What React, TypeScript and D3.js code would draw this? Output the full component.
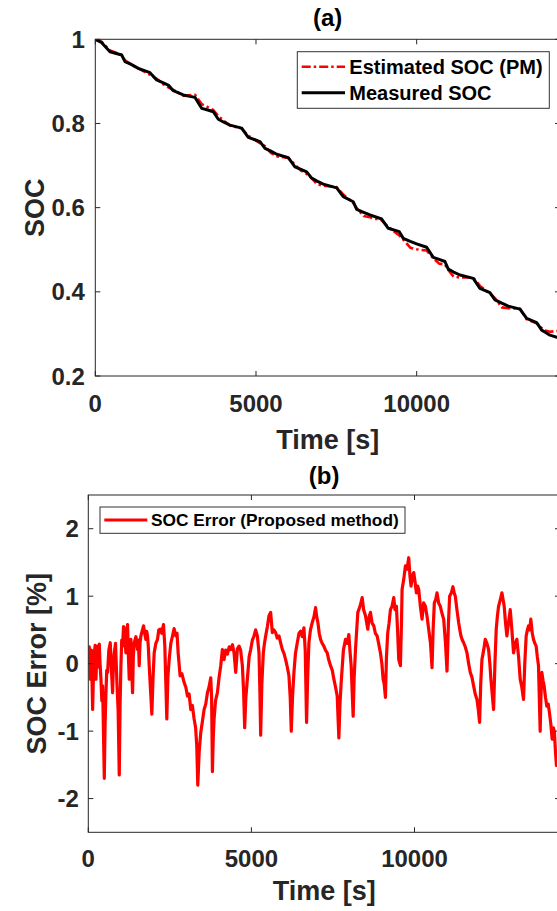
import React, { useEffect } from "react";
import * as d3 from "d3";

// ---------- data ----------
const timeTicks = [0, 5000, 10000];
const socTicks = [0.2, 0.4, 0.6, 0.8, 1];
const errTicks = [-2, -1, 0, 1, 2];
const socTickLabels = ["0.2", "0.4", "0.6", "0.8", "1"];
const errTickLabels = ["-2", "-1", "0", "1", "2"];

// [time s, SOC]
const measuredSOC: [number, number][] = [
  [0, 1.0], [200, 0.992], [457, 0.9705], [821, 0.9627], [924, 0.947], [1100, 0.941], [1338, 0.931],
  [1702, 0.9207], [1910, 0.9033], [2100, 0.897], [2271, 0.8914], [2427, 0.878], [2738, 0.8677],
  [3102, 0.862], [3310, 0.836], [3500, 0.832], [3671, 0.828], [3827, 0.81], [4000, 0.803], [4191, 0.796],
  [4555, 0.789], [4760, 0.767], [5125, 0.757], [5280, 0.741], [5450, 0.735], [5644, 0.727], [6005, 0.719],
  [6213, 0.697], [6400, 0.691], [6577, 0.685], [6733, 0.67], [6900, 0.663], [7094, 0.656], [7511, 0.647],
  [7716, 0.626], [8027, 0.614], [8133, 0.596], [8350, 0.589], [8547, 0.583], [8911, 0.573], [9116, 0.551],
  [9459, 0.543], [9583, 0.527], [9800, 0.52], [10000, 0.514], [10311, 0.506], [10516, 0.482], [10700, 0.477],
  [10880, 0.472], [10983, 0.454], [11150, 0.447], [11347, 0.44], [11761, 0.432], [11969, 0.408], [12280, 0.398],
  [12436, 0.381], [12650, 0.373], [12850, 0.366], [13214, 0.359], [13423, 0.337], [13734, 0.327], [13890, 0.309],
  [14000, 0.304], [14148, 0.297], [14365, 0.292], [14460, 0.29],
];

const estimatedSOC: [number, number][] = [
  [0, 0.999], [200, 0.994], [457, 0.9735], [821, 0.963], [924, 0.95], [1100, 0.941], [1338, 0.931],
  [1702, 0.916], [1910, 0.906], [2100, 0.894], [2271, 0.886], [2427, 0.88], [2738, 0.866],
  [3102, 0.868], [3310, 0.846], [3500, 0.839], [3671, 0.832], [3827, 0.818], [4000, 0.806], [4191, 0.795],
  [4555, 0.788], [4760, 0.771], [5125, 0.753], [5280, 0.746], [5450, 0.731], [5644, 0.722], [6005, 0.718],
  [6213, 0.702], [6400, 0.688], [6577, 0.68], [6733, 0.67], [6900, 0.656], [7094, 0.652], [7511, 0.649],
  [7716, 0.631], [8027, 0.611], [8133, 0.599], [8350, 0.58], [8547, 0.577], [8911, 0.57], [9116, 0.554],
  [9459, 0.534], [9583, 0.524], [9800, 0.505], [10000, 0.501], [10311, 0.498], [10516, 0.48], [10700, 0.467],
  [10880, 0.465], [10983, 0.452], [11150, 0.436], [11347, 0.434], [11761, 0.434], [11969, 0.414], [12280, 0.396],
  [12436, 0.385], [12650, 0.363], [12850, 0.361], [13214, 0.36], [13423, 0.335], [13734, 0.325], [13890, 0.314],
  [14000, 0.308], [14148, 0.305], [14365, 0.307], [14460, 0.306],
];

// [time s, SOC error %]
const socError: [number, number][] = [
  [0, 0.11], [30, 0.25], [61, -0.23], [95, 0.2], [133, -0.68], [160, -0.1], [184, 0.16], [210, 0.27],
  [235, -0.23], [260, 0.1], [286, 0.26], [310, -0.05], [337, 0.29], [360, 0.0], [388, -0.23], [415, -0.55],
  [439, -0.33], [465, -1.0], [490, -1.7], [515, -0.9], [541, -0.43], [565, -0.1], [592, -0.13], [630, 0.2],
  [673, 0.31], [710, -0.1], [745, -0.43], [770, 0.0], [796, 0.16], [835, 0.3], [877, -0.28], [915, -0.7],
  [949, -1.65], [975, -0.6], [1000, -0.03], [1025, 0.35], [1051, 0.26], [1080, 0.55], [1102, 0.53],
  [1130, 0.3], [1153, 0.16], [1180, 0.45], [1204, 0.58], [1230, 0.1], [1255, -0.23], [1280, 0.2],
  [1306, 0.36], [1330, -0.1], [1357, -0.43], [1380, 0.1], [1408, 0.31], [1460, 0.4], [1510, 0.21],
  [1535, 0.35], [1561, -0.03], [1585, 0.3], [1612, 0.41], [1650, 0.48], [1693, 0.56], [1730, 0.45],
  [1765, 0.36], [1790, 0.48], [1816, 0.41], [1840, 0.25], [1867, -0.03], [1948, -0.75], [1985, -0.2],
  [2020, 0.16], [2070, 0.3], [2122, 0.36], [2160, 0.5], [2203, 0.51], [2250, 0.45], [2305, 0.58],
  [2346, 0.26], [2407, -0.82], [2440, -0.2], [2479, 0.06], [2530, 0.3], [2581, 0.41], [2630, 0.52],
  [2683, 0.41], [2720, 0.45], [2754, 0.16], [2815, -0.18], [2870, -0.15], [2938, -0.28], [2990, -0.35],
  [3040, -0.48], [3090, -0.45], [3142, -0.68], [3190, -0.62], [3244, -0.82], [3290, -0.95], [3325, -1.22],
  [3356, -1.8], [3400, -1.3], [3448, -1.02], [3500, -0.85], [3550, -0.68], [3600, -0.6], [3652, -0.43],
  [3700, -0.35], [3754, -0.21], [3780, -0.5], [3805, -1.6], [3830, -1.1], [3856, -0.82], [3900, -0.55],
  [3958, -0.43], [4010, -0.2], [4060, -0.03], [4111, 0.21], [4162, 0.06], [4210, 0.2], [4264, 0.14],
  [4320, 0.25], [4366, 0.21], [4420, 0.28], [4468, 0.16], [4519, -0.13], [4570, 0.22], [4621, 0.26],
  [4670, 0.2], [4723, -0.03], [4760, -0.4], [4794, -0.95], [4830, -0.5], [4876, -0.23], [4930, 0.1],
  [4978, 0.21], [5030, 0.35], [5080, 0.41], [5130, 0.5], [5182, 0.41], [5233, 0.16], [5260, -0.4],
  [5284, -1.06], [5320, -0.3], [5365, 0.16], [5400, 0.3], [5437, 0.41], [5490, 0.55], [5539, 0.71],
  [5590, 0.76], [5641, 0.46], [5690, 0.5], [5743, 0.46], [5790, 0.38], [5845, 0.41], [5900, 0.3],
  [5947, 0.21], [6000, 0.15], [6049, 0.06], [6100, -0.05], [6151, -0.18], [6190, -0.5], [6222, -1.0],
  [6260, -0.5], [6304, -0.13], [6350, 0.15], [6406, 0.31], [6460, 0.45], [6508, 0.48], [6560, 0.4],
  [6610, 0.53], [6650, 0.2], [6691, -0.87], [6725, -0.2], [6763, 0.31], [6810, 0.5], [6865, 0.61],
  [6920, 0.7], [6967, 0.83], [7000, 0.7], [7038, 0.61], [7080, 0.45], [7120, 0.36], [7170, 0.3],
  [7222, 0.26], [7270, 0.2], [7324, 0.16], [7375, 0.05], [7426, -0.03], [7480, -0.1], [7528, -0.23],
  [7580, -0.35], [7630, -0.48], [7681, -1.1], [7715, -0.6], [7752, -0.28], [7820, 0.2], [7885, 0.36],
  [7935, 0.3], [7987, 0.43], [8020, 0.2], [8058, -0.03], [8119, -0.78], [8150, -0.2], [8191, 0.21],
  [8262, 0.76], [8330, 0.85], [8395, 0.98], [8440, 0.8], [8497, 0.71], [8568, 0.51], [8610, 0.7],
  [8650, 0.76], [8700, 0.6], [8752, 0.56], [8800, 0.45], [8854, 0.41], [8900, 0.3], [8956, 0.16],
  [9000, 0.0], [9037, -0.23], [9070, -0.3], [9109, -0.5], [9140, 0.1], [9180, 0.46], [9220, 0.6],
  [9262, 0.8], [9310, 0.85], [9364, 0.98], [9400, 0.8], [9445, 0.85], [9480, 0.5], [9517, 0.06],
  [9568, -0.03], [9600, 0.6], [9619, 1.1], [9670, 1.25], [9721, 1.45], [9770, 1.4], [9823, 1.57],
  [9860, 1.3], [9894, 1.15], [9935, 1.3], [9976, 1.35], [10020, 1.2], [10057, 1.05], [10095, 1.15],
  [10129, 1.1], [10180, 0.85], [10231, 0.66], [10280, 0.9], [10333, 0.85], [10385, 0.7], [10435, 0.51],
  [10490, 0.3], [10537, -0.06], [10570, 0.5], [10608, 0.9], [10650, 0.95], [10690, 1.05], [10740, 0.9],
  [10792, 0.85], [10840, 0.75], [10894, 0.66], [10950, 0.3], [10996, -0.11], [11040, 0.6], [11077, 1.0],
  [11130, 1.05], [11179, 1.14], [11215, 1.05], [11251, 1.0], [11300, 0.8], [11353, 0.61], [11390, 0.5],
  [11424, 0.41], [11465, 0.35], [11506, 0.31], [11555, 0.25], [11608, 0.16], [11660, 0.0], [11710, -0.13],
  [11760, -0.2], [11812, -0.33], [11860, -0.45], [11914, -0.53], [11960, -0.7], [11995, -0.87],
  [12030, -0.3], [12067, 0.06], [12120, 0.2], [12169, 0.36], [12220, 0.3], [12271, 0.21], [12310, 0.0],
  [12342, -0.23], [12424, -0.68], [12465, 0.0], [12505, 0.51], [12540, 0.7], [12577, 0.85], [12630, 0.95],
  [12679, 1.05], [12715, 0.95], [12750, 0.85], [12790, 0.6], [12832, 0.41], [12880, 0.6], [12934, 0.8],
  [12985, 0.5], [13036, 0.16], [13090, 0.3], [13138, 0.36], [13190, 0.1], [13240, -0.23], [13290, -0.35],
  [13342, -0.53], [13380, 0.0], [13423, 0.41], [13460, 0.5], [13495, 0.56], [13530, 0.5], [13566, 0.66],
  [13610, 0.45], [13648, 0.36], [13690, 0.3], [13729, 0.26], [13765, 0.1], [13801, -0.03], [13852, -1.0],
  [13875, -0.5], [13903, -0.13], [13940, -0.25], [13974, -0.33], [14015, -0.5], [14056, -0.63],
  [14100, -0.6], [14137, -0.73], [14180, -0.9], [14219, -1.12], [14260, -0.95], [14290, -1.02],
  [14320, -1.3], [14351, -1.51], [14390, -1.35], [14420, -1.45],
];

const legendA = ["Estimated SOC (PM)", "Measured SOC"];
const legendB = ["SOC Error (Proposed method)"];

// ---------- styling ----------
const FONT = "'Liberation Sans', Arial, Helvetica, sans-serif";
const TXT = "#262626";
const AX = "#262626";
const TICK = 5;

export default function App() {
  useEffect(() => {
    document.body.style.margin = "0";
  }, []);

  const W = 557;
  const H = 911;
  const a = { left: 95.3, right: 560, top: 39.3, bottom: 376 };
  const b = { left: 88.3, right: 560, top: 495, bottom: 832.3 };

  const xA = d3.scaleLinear().domain([0, 14460]).range([a.left, a.right]);
  const yA = d3.scaleLinear().domain([0.2, 1]).range([a.bottom, a.top]);
  const xB = d3.scaleLinear().domain([0, 14460]).range([b.left, b.right]);
  const yB = d3.scaleLinear().domain([-2.5, 2.5]).range([b.bottom, b.top]);

  const lineA = d3
    .line<[number, number]>()
    .x((d) => xA(d[0]))
    .y((d) => yA(d[1]));
  const lineB = d3
    .line<[number, number]>()
    .x((d) => xB(d[0]))
    .y((d) => yB(d[1]));

  const frame = (p: typeof a) => (
    <rect
      x={p.left}
      y={p.top}
      width={p.right - p.left}
      height={p.bottom - p.top}
      fill="none"
      stroke={AX}
      strokeWidth={1}
    />
  );

  const xTicksFor = (p: typeof a, xs: d3.ScaleLinear<number, number>, key: string) =>
    timeTicks.map((t) => (
      <g key={key + t}>
        <line x1={xs(t)} x2={xs(t)} y1={p.bottom} y2={p.bottom - TICK} stroke={AX} />
        <line x1={xs(t)} x2={xs(t)} y1={p.top} y2={p.top + TICK} stroke={AX} />
      </g>
    ));

  const yTicksFor = (p: typeof a, ys: d3.ScaleLinear<number, number>, ticks: number[], key: string) =>
    ticks.map((v) => (
      <g key={key + v}>
        <line x1={p.left} x2={p.left + TICK} y1={ys(v)} y2={ys(v)} stroke={AX} />
        <line x1={p.right} x2={p.right - TICK} y1={ys(v)} y2={ys(v)} stroke={AX} />
      </g>
    ));

  const tickStyle = { fontFamily: FONT, fontWeight: 700, fontSize: 24, fill: TXT } as const;
  const labelStyle = { fontFamily: FONT, fontWeight: 700, fontSize: 27, fill: TXT } as const;
  const titleStyle = { fontFamily: FONT, fontWeight: 700, fontSize: 24, fill: "#000" } as const;

  return (
    <svg
      width={W}
      height={H}
      viewBox={`0 0 ${W} ${H}`}
      style={{ display: "block", background: "#fff", overflow: "hidden" }}
    >
      <rect x={0} y={0} width={W} height={H} fill="#fff" />
      <defs>
        <clipPath id="clipA">
          <rect x={a.left} y={a.top} width={a.right - a.left} height={a.bottom - a.top} />
        </clipPath>
        <clipPath id="clipB">
          <rect x={b.left} y={b.top} width={b.right - b.left} height={b.bottom - b.top} />
        </clipPath>
      </defs>

      {/* ===== (a) ===== */}
      <text x={(a.left + a.right) / 2} y={25.5} textAnchor="middle" style={titleStyle}>
        (a)
      </text>
      <g clipPath="url(#clipA)">
        <path
          d={lineA(estimatedSOC) || ""}
          fill="none"
          stroke="#ff0000"
          strokeWidth={2.6}
          strokeDasharray="9,3,2.5,3"
          strokeLinejoin="round"
        />
        <path
          d={lineA(measuredSOC) || ""}
          fill="none"
          stroke="#000"
          strokeWidth={3}
          strokeLinejoin="round"
        />
      </g>
      {frame(a)}
      {xTicksFor(a, xA, "xa")}
      {yTicksFor(a, yA, socTicks, "ya")}
      {socTicks.map((v, i) => (
        <text key={"lya" + v} x={a.left - 10.5} y={yA(v)} dy="0.36em" textAnchor="end" style={tickStyle}>
          {socTickLabels[i]}
        </text>
      ))}
      {timeTicks.map((t) => (
        <text key={"lxa" + t} x={xA(t)} y={412} textAnchor="middle" style={tickStyle}>
          {t}
        </text>
      ))}
      <text x={(a.left + a.right) / 2} y={448.5} textAnchor="middle" style={labelStyle}>
        Time [s]
      </text>
      <text
        transform={`translate(44,${(a.top + a.bottom) / 2}) rotate(-90)`}
        textAnchor="middle"
        style={labelStyle}
      >
        SOC
      </text>
      {/* legend (a) */}
      <g>
        <rect x={297.3} y={51.7} width={252} height={56.6} fill="#fff" stroke="#333" strokeWidth={1} />
        <line x1={301.7} x2={345} y1={66.7} y2={66.7} stroke="#ff0000" strokeWidth={2.6} strokeDasharray="9,3,2.5,3" />
        <line x1={301.7} x2={345} y1={92.7} y2={92.7} stroke="#000" strokeWidth={3} />
        <text x={349.3} y={66.7} dy="0.36em" style={{ fontFamily: FONT, fontWeight: 700, fontSize: 20, fill: "#000" }}>
          {legendA[0]}
        </text>
        <text x={349.3} y={92.7} dy="0.36em" style={{ fontFamily: FONT, fontWeight: 700, fontSize: 20, fill: "#000" }}>
          {legendA[1]}
        </text>
      </g>

      {/* ===== (b) ===== */}
      <text x={(b.left + b.right) / 2} y={484} textAnchor="middle" style={titleStyle}>
        (b)
      </text>
      <g clipPath="url(#clipB)">
        <path
          d={lineB(socError) || ""}
          fill="none"
          stroke="#ff0000"
          strokeWidth={3.2}
          strokeLinejoin="round"
        />
      </g>
      {frame(b)}
      {xTicksFor(b, xB, "xb")}
      {yTicksFor(b, yB, errTicks, "yb")}
      {errTicks.map((v, i) => (
        <text key={"lyb" + v} x={b.left - 9.5} y={yB(v)} dy="0.36em" textAnchor="end" style={tickStyle}>
          {errTickLabels[i]}
        </text>
      ))}
      {timeTicks.map((t) => (
        <text key={"lxb" + t} x={xB(t)} y={867} textAnchor="middle" style={tickStyle}>
          {t}
        </text>
      ))}
      <text x={(b.left + b.right) / 2} y={900} textAnchor="middle" style={labelStyle}>
        Time [s]
      </text>
      <text
        transform={`translate(46,${(b.top + b.bottom) / 2}) rotate(-90)`}
        textAnchor="middle"
        style={labelStyle}
      >
        SOC Error [%]
      </text>
      {/* legend (b) */}
      <g>
        <rect x={100} y={507} width={305} height={26.3} fill="#fff" stroke="#333" strokeWidth={1} />
        <line x1={104.3} x2={147.3} y1={520} y2={520} stroke="#ff0000" strokeWidth={3} />
        <text x={151} y={520} dy="0.36em" style={{ fontFamily: FONT, fontWeight: 700, fontSize: 17.3, fill: "#000" }}>
          {legendB[0]}
        </text>
      </g>
    </svg>
  );
}
